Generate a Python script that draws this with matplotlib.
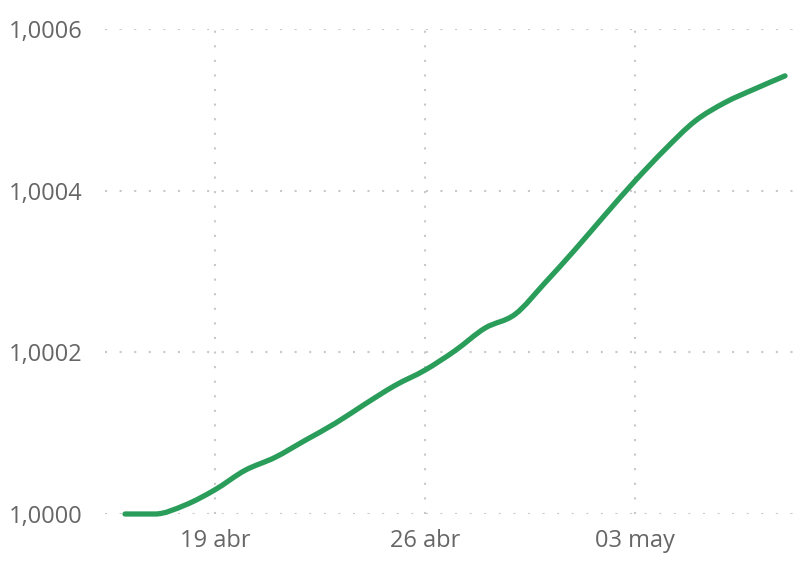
import matplotlib
matplotlib.use("Agg")
import matplotlib.pyplot as plt
import matplotlib.dates as mdates
from matplotlib.path import Path
from matplotlib.patches import PathPatch
import numpy as np
import pandas as pd

dates = pd.date_range("2020-04-16", "2020-05-08", freq="D")
values = [1.00000, 1.00000, 1.000011, 1.000030, 1.000054, 1.000070, 1.000091,
          1.000112, 1.000136, 1.000159, 1.000178, 1.000202, 1.000230, 1.000247,
          1.000286, 1.000327, 1.000370, 1.000412, 1.000451, 1.000486, 1.000509,
          1.000526, 1.000542]
tick_dates = pd.to_datetime(["2020-04-19", "2020-04-26", "2020-05-03"])
tick_labels = ["19 abr", "26 abr", "03 may"]
y_ticks = [1.0000, 1.0002, 1.0004, 1.0006]
y_labels = ["1,0000", "1,0002", "1,0004", "1,0006"]

plt.rcParams['font.family'] = ['Open Sans', 'DejaVu Sans']
fig = plt.figure(figsize=(8.08, 5.64), dpi=100)
W, H = 808, 564
x0, x1, ytop, ybot = 105, 800, 29, 514
ax = fig.add_axes([x0 / W, 1 - ybot / H, (x1 - x0) / W, (ybot - ytop) / H])

# smooth rendering of the series (monotone cubic -> Bezier path)
xs = mdates.date2num(dates)
ys = np.array(values)
n = len(xs)
sec = np.diff(ys) / np.diff(xs)
tang = np.zeros(n)
tang[0], tang[-1] = sec[0], sec[-1]
for i in range(1, n - 1):
    if sec[i - 1] * sec[i] <= 0:
        tang[i] = 0.0
    else:
        tang[i] = (sec[i - 1] + sec[i]) / 2
verts = [(xs[0], ys[0])]
codes = [Path.MOVETO]
for i in range(n - 1):
    h = xs[i + 1] - xs[i]
    verts += [(xs[i] + h / 3, ys[i] + tang[i] * h / 3),
              (xs[i + 1] - h / 3, ys[i + 1] - tang[i + 1] * h / 3),
              (xs[i + 1], ys[i + 1])]
    codes += [Path.CURVE4] * 3
patch = PathPatch(Path(verts, codes), facecolor="none", edgecolor="#2a9d5a",
                  lw=3.8, capstyle="round", joinstyle="round", clip_on=False,
                  zorder=3)
ax.add_patch(patch)

ax.set_xlim(pd.Timestamp("2020-04-19") - pd.Timedelta(days=110 / 30),
            pd.Timestamp("2020-04-19") + pd.Timedelta(days=585 / 30))
ax.set_ylim(1.0, 1.0006)
ax.set_xticks(tick_dates)
ax.set_xticklabels(tick_labels)
ax.set_yticks(y_ticks)
ax.set_yticklabels(y_labels)
for s in ax.spines.values():
    s.set_visible(False)
ax.tick_params(length=0, labelsize=17, colors="#666666")
ax.tick_params(axis="y", pad=16)
ax.tick_params(axis="x", pad=11)
ax.grid(True, color="#c8c8c8", linestyle=(0, (1, 6)), lw=1.5)
ax.set_axisbelow(True)

fig.savefig("out.png", dpi=100)
